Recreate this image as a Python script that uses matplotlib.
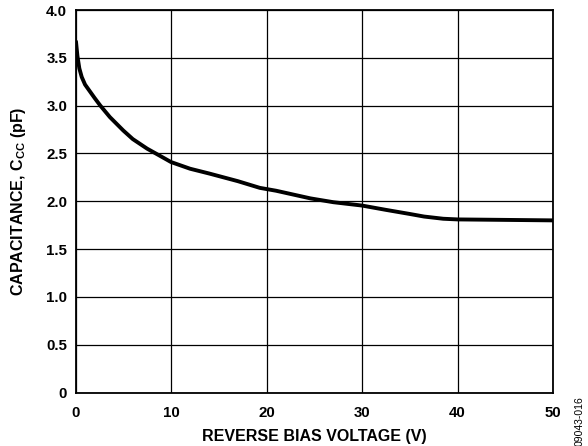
import matplotlib
matplotlib.use("Agg")
import matplotlib.pyplot as plt

plt.rcParams['font.family'] = ['Liberation Sans', 'DejaVu Sans']
plt.rcParams['mathtext.fontset'] = 'custom'
plt.rcParams['mathtext.rm'] = 'Liberation Sans:bold'
plt.rcParams['mathtext.bf'] = 'Liberation Sans:bold'
plt.rcParams['mathtext.it'] = 'Liberation Sans:bold'

voltage = [0.05, 0.2, 0.4, 0.65, 1.0, 1.5, 2.0, 2.6, 3.6, 5.0, 6.0, 7.5, 8.4, 10, 12, 14, 17, 19.3, 21, 24.6, 27, 30, 32.5, 35, 36.5, 38.5, 40, 45, 50]
capacitance = [3.67, 3.52, 3.39, 3.30, 3.22, 3.15, 3.08, 3.00, 2.88, 2.74, 2.65, 2.55, 2.50, 2.41, 2.34, 2.29, 2.21, 2.14, 2.11, 2.03, 1.99, 1.955, 1.91, 1.867, 1.84, 1.817, 1.81, 1.805, 1.80]
xticks = [0, 10, 20, 30, 40, 50]
yticks = [0, 0.5, 1.0, 1.5, 2.0, 2.5, 3.0, 3.5, 4.0]
yticklabels = ['0', '0.5', '1.0', '1.5', '2.0', '2.5', '3.0', '3.5', '4.0']

fig = plt.figure(figsize=(5.88, 4.46), dpi=100)
ax = fig.add_axes([75.5/588, 53.5/446, 477.5/588, 382.5/446])
ax.plot(voltage, capacitance, color='black', linewidth=2.8,
        solid_capstyle='round', solid_joinstyle='round')
ax.set_xlim(0, 50)
ax.set_ylim(0, 4.0)
ax.set_xticks(xticks)
ax.set_xticklabels([str(t) for t in xticks])
ax.set_yticks(yticks)
ax.set_yticklabels(yticklabels)
ax.grid(True, color='black', linewidth=0.9)
ax.tick_params(axis='x', length=0, labelsize=10.8, pad=10)
ax.tick_params(axis='y', length=0, labelsize=10.8, pad=6)
for lab in ax.get_xticklabels() + ax.get_yticklabels():
    lab.set_fontweight('bold')
for s in ax.spines.values():
    s.set_linewidth(1.3)
ax.set_xlabel('REVERSE BIAS VOLTAGE (V)', fontsize=11.5, fontweight='bold', labelpad=6)
ax.set_ylabel(r'CAPACITANCE, C$_{\mathrm{CC}}$ (pF)', fontsize=11.5, fontweight='bold', labelpad=13)
fig.text(580/588, 1 - 421/446, '09043-016', rotation=90, fontsize=7.5, ha='center', va='center')
fig.savefig('out.png', dpi=100)
